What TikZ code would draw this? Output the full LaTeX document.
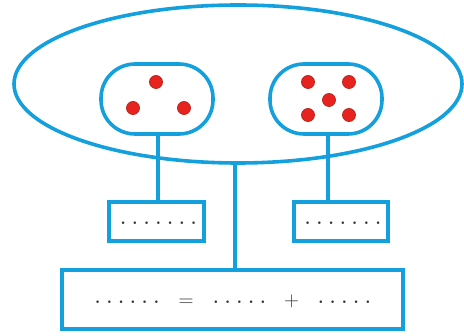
\documentclass[tikz,border=0pt]{standalone}
\usetikzlibrary{shapes.geometric}
\definecolor{lineblue}{RGB}{20,160,220}
\definecolor{dotred}{RGB}{230,35,30}
\definecolor{dotedge}{RGB}{190,40,30}
\definecolor{txtgray}{RGB}{50,50,50}
\newcommand\dk{\kern6.1pt}
\begin{document}
\begin{tikzpicture}[x=1pt,y=-1pt,
  blue line/.style={draw=lineblue,line width=3.6pt},
  pill/.style={blue line,rounded corners=34pt},
  boxx/.style={blue line,rectangle},
  reddot/.style={circle,fill=dotred,draw=dotedge,line width=0.8pt,minimum size=13pt,inner sep=0pt},
  txt/.style={font=\fontsize{18}{20}\selectfont\bfseries,text=txtgray,inner sep=0pt,anchor=base},
  sym/.style={font=\fontsize{21}{23}\selectfont,text=txtgray,inner sep=0pt,anchor=base}]
\useasboundingbox (0,0) rectangle (464,336);
\fill[white] (0,0) rectangle (464,336);
% big ellipse
\node[blue line,ellipse,minimum width=448pt,minimum height=158pt,inner sep=0pt] (E) at (238,84) {};
% pills
\draw[pill] (101,64) rectangle (213,134);
\draw[pill] (270,64) rectangle (382,134);
\coordinate (LP) at (158,134);
\coordinate (RP) at (328,134);
% dots
\node[reddot] (l1) at (156,82) {};
\node[reddot] (l2) at (133,108) {};
\node[reddot] (l3) at (184,108) {};
\node[reddot] (r1) at (308,82) {};
\node[reddot] (r2) at (349,82) {};
\node[reddot] (r3) at (329,100) {};
\node[reddot] (r4) at (308,115) {};
\node[reddot] (r5) at (349,115) {};
% boxes
\node[boxx,minimum width=95pt,minimum height=39pt] (LB) at (156.5,221.5) {};
\node[boxx,minimum width=94pt,minimum height=39pt] (RB) at (341,221.5) {};
\node[boxx,minimum width=341pt,minimum height=59pt] (BB) at (232.5,299.5) {};
% texts
\node[txt] at (158.5,225) {.\dk.\dk.\dk.\dk.\dk.\dk.};
\node[txt] at (343,225) {.\dk.\dk.\dk.\dk.\dk.\dk.};
\node[txt] at (127,304) {.\dk.\dk.\dk.\dk.\dk.};
\node[sym] at (186,307) {$=$};
\node[txt] at (239.5,304) {.\dk.\dk.\dk.\dk.};
\node[sym] at (291.5,307) {$+$};
\node[txt] at (344.5,304) {.\dk.\dk.\dk.\dk.};
% connectors
\draw[blue line] (LP) -- (LP |- LB.north);
\draw[blue line] (RP) -- (RP |- RB.north);
\draw[blue line] (E.south) ++(-3,0) coordinate (EC) (EC) -- (EC |- BB.north);
\end{tikzpicture}
\end{document}
